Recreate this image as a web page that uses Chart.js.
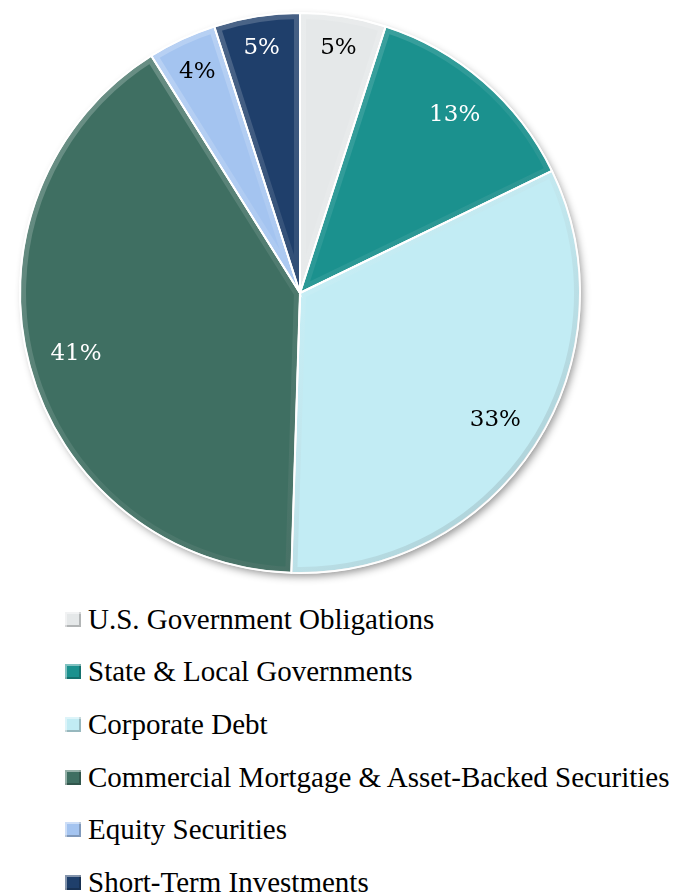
<!DOCTYPE html>
<html>
<head>
<meta charset="utf-8">
<script src="https://cdn.jsdelivr.net/npm/chart.js@4"></script>
<style>
    body { margin: 0; background: #fff; }
    #wrap { position: relative; width: 677px; height: 895px; }
    #pie { position: absolute; left: 0; top: 0; }
    #legend { position: absolute; left: 65px; top: 593px; margin: 0; padding: 0; list-style: none;
        font-family: "Liberation Serif", "Times New Roman", serif; font-size: 29px; color: #000; }
    #legend li { height: 52.6px; display: flex; align-items: center; white-space: nowrap; }
    #legend .box { width: 16px; height: 15px; margin-right: 7px; flex: none;
        box-shadow: inset 2px 2px 0 rgba(255,255,255,0.45), inset -2px -2px 0 rgba(0,0,0,0.22); }
</style>
</head>
<body>
<div id="wrap">
    <canvas id="pie" width="677" height="590"></canvas>
    <ul id="legend"></ul>
</div>
<script>
const categories = ['U.S. Government Obligations', 'State & Local Governments', 'Corporate Debt', 'Commercial Mortgage & Asset-Backed Securities', 'Equity Securities', 'Short-Term Investments'];
const shares = [5, 13, 33, 41, 4, 5];

const colors = ['#E5E8E9', '#1B918E', '#C2ECF4', '#3F6F62', '#A4C4F0', '#1F3F6B'];
const labelColors = ['#000', '#fff', '#000', '#fff', '#000', '#fff'];

// soft drop shadow under the whole pie
const pieShadow = {
    id: 'pieShadow',
    beforeDatasetsDraw(chart) {
        const arc = chart.getDatasetMeta(0).data[0];
        if (!arc) return;
        const { x, y, outerRadius } = arc.getProps(['x', 'y', 'outerRadius'], true);
        const ctx = chart.ctx;
        ctx.save();
        ctx.shadowColor = 'rgba(0,0,0,0.45)';
        ctx.shadowBlur = 9;
        ctx.shadowOffsetX = 3;
        ctx.shadowOffsetY = 4;
        ctx.beginPath();
        ctx.arc(x, y, outerRadius - 1, 0, Math.PI * 2);
        ctx.fillStyle = '#fff';
        ctx.fill();
        ctx.restore();
    }
};

// bevel: light band on top-left facing edges, dark on bottom-right
const bevel = {
    id: 'bevel',
    afterDatasetsDraw(chart) {
        const ctx = chart.ctx;
        chart.getDatasetMeta(0).data.forEach(arc => {
            const { x, y, startAngle, endAngle, outerRadius } =
                arc.getProps(['x', 'y', 'startAngle', 'endAngle', 'outerRadius'], true);
            const path = () => {
                ctx.beginPath();
                ctx.moveTo(x, y);
                ctx.arc(x, y, outerRadius, startAngle, endAngle);
                ctx.closePath();
            };
            ctx.save();
            path();
            ctx.clip();
            const g = ctx.createLinearGradient(x - outerRadius, y - outerRadius, x + outerRadius, y + outerRadius);
            g.addColorStop(0, 'rgba(255,255,255,0.28)');
            g.addColorStop(0.5, 'rgba(255,255,255,0.07)');
            g.addColorStop(1, 'rgba(0,0,0,0.18)');
            ctx.lineWidth = 12;
            ctx.lineJoin = 'round';
            ctx.strokeStyle = g;
            path();
            ctx.stroke();
            ctx.restore();
            ctx.save();
            ctx.lineWidth = 1.5;
            ctx.strokeStyle = 'rgba(255,255,255,0.9)';
            path();
            ctx.stroke();
            ctx.restore();
        });
    }
};

// percentage labels placed just inside the outer edge
const sliceLabels = {
    id: 'sliceLabels',
    afterDatasetsDraw(chart) {
        const ctx = chart.ctx;
        const values = chart.data.datasets[0].data;
        ctx.save();
        ctx.font = '23px "DejaVu Serif", serif';
        ctx.textAlign = 'center';
        ctx.textBaseline = 'middle';
        chart.getDatasetMeta(0).data.forEach((arc, i) => {
            const { x, y, startAngle, endAngle, outerRadius } =
                arc.getProps(['x', 'y', 'startAngle', 'endAngle', 'outerRadius'], true);
            const text = values[i] + '%';
            const mid = (startAngle + endAngle) / 2;
            const w = ctx.measureText(text).width;
            const h = 17;
            const c = Math.cos(mid), s = Math.sin(mid);
            const d = outerRadius - 21 - (Math.abs(c) * w / 2 + Math.abs(s) * h / 2);
            ctx.fillStyle = labelColors[i];
            ctx.fillText(text, x + c * d, y + s * d);
        });
        ctx.restore();
    }
};

const chart = new Chart(document.getElementById('pie'), {
    type: 'pie',
    data: {
        labels: categories,
        datasets: [{
            data: shares,
            backgroundColor: colors,
            borderColor: '#fff',
            borderWidth: 2
        }]
    },
    options: {
        responsive: false,
        animation: false,
        layout: { padding: { left: 19, right: 96, top: 12, bottom: 16 } },
        plugins: {
            legend: { display: false },
            tooltip: { enabled: false }
        }
    },
    plugins: [pieShadow, bevel, sliceLabels]
});

// legend list below the pie
const legend = document.getElementById('legend');
categories.forEach((name, i) => {
    const li = document.createElement('li');
    const box = document.createElement('span');
    box.className = 'box';
    box.style.background = colors[i];
    li.appendChild(box);
    li.appendChild(document.createTextNode(name));
    legend.appendChild(li);
});
</script>
</body>
</html>
